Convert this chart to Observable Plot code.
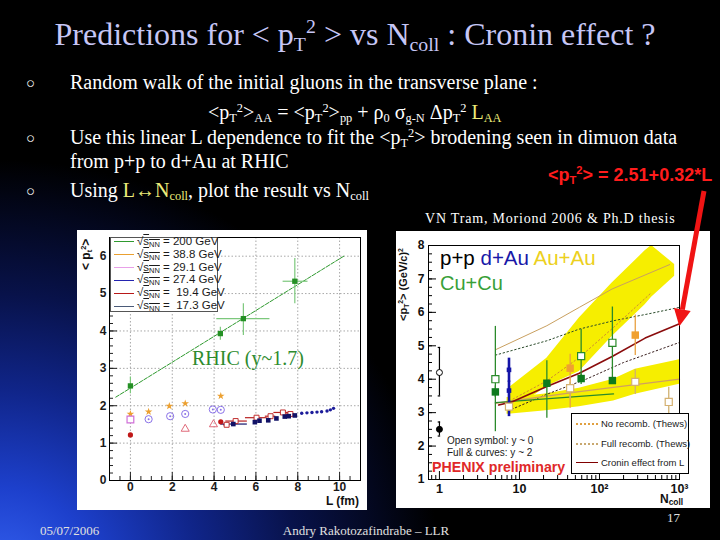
<!DOCTYPE html>
<html>
<head>
<meta charset="utf-8">
<script src="https://cdn.jsdelivr.net/npm/d3@7"></script>
<script src="https://cdn.jsdelivr.net/npm/@observablehq/plot@0.6"></script>
<style>
  html, body { margin:0; padding:0; }
  body { width:720px; height:540px; overflow:hidden; position:relative; background:#000; }
  #bg { position:absolute; left:0; top:0; width:720px; height:540px;
        background: radial-gradient(ellipse 440px 420px at 0px 580px, #3562f2 0%, #1d40cc 22%, #10258a 45%, #08124a 68%, #000 100%); }
  .tx { position:absolute; white-space:nowrap; line-height:1; }
  .tx sub, .tx sup { font-size:0.62em; line-height:0; }
  .tx sub { vertical-align:-0.28em; }
  .tx sup { vertical-align:0.6em; }
  .yel { color:#ecec7a; }
  .plotbox { position:absolute; }
  .plotbox svg { display:block; }
  .legbox { position:absolute; background:#fff; box-sizing:border-box; }
  .legrow { position:absolute; white-space:nowrap; line-height:1; font-family:"Liberation Sans",Arial,sans-serif; color:#1a1a1a; }
  .legline { position:absolute; height:0; }
</style>
</head>
<body>
<div id="bg"></div>
<script>
// ================= LEFT CHART: <pT^2> vs L =================
const L_TICKS = [0, 2, 4, 6, 8, 10];
const LPT2_TICKS = [0, 1, 2, 3, 4, 5, 6];

// sqrt(sNN) = 200 GeV (RHIC)
const s200_L   = [0, 4.3, 5.4, 7.86];
const s200_pt2 = [2.53, 3.93, 4.33, 5.33];
const s200_lo  = [2.32, 3.75, 3.88, 4.73];
const s200_hi  = [2.77, 4.10, 4.73, 5.94];
const s200_Llo = [0, 4.3, 4.13, 7.30];
const s200_Lhi = [0, 4.3, 6.67, 8.49];
const fit_L    = [-0.7, 10.2];
const fit_pt2  = [2.23, 6.0];
// 38.8 GeV
const s388_L   = [0, 0.87, 1.86, 2.62, 4.32];
const s388_pt2 = [1.78, 1.84, 1.99, 2.06, 2.26];
// 29.1 GeV
const s291_L     = [0.87, 1.9, 2.62, 3.94, 4.32];
const s291_pt2   = [1.64, 1.72, 1.78, 1.90, 1.89];
const s291sq_L   = [0];
const s291sq_pt2 = [1.63];
const s291tr_L   = [2.62, 3.97];
const s291tr_pt2 = [1.38, 1.50];
// 19.4 GeV
const s194_L     = [0, 4.32];
const s194_pt2   = [1.22, 1.57];
const s194o_L    = [4.6, 5.03, 6.03, 6.7, 7.29, 7.65];
const s194o_pt2  = [1.49, 1.59, 1.68, 1.72, 1.82, 1.78];
const s194o_Llo  = [4.45, 4.56, 5.5, 6.45, 6.86, 7.45];
const s194o_Lhi  = [4.75, 5.59, 6.54, 6.95, 7.65, 7.85];
// 17.3 GeV
const s173_L     = [4.92, 5.95, 6.17, 6.59, 6.98, 7.38, 7.57, 7.86];
const s173_pt2   = [1.51, 1.56, 1.60, 1.61, 1.66, 1.71, 1.72, 1.74];
const s173_Llo   = [4.32, 5.95, 6.17, 6.59, 6.98, 7.38, 7.57, 7.86];
const s173_Lhi   = [5.59, 5.95, 6.17, 6.59, 6.98, 7.38, 7.57, 7.86];
// 27.4 GeV
const s274_L     = [8.19, 8.44, 8.68, 8.92, 9.14, 9.40, 9.56, 9.71];
const s274_pt2   = [1.80, 1.81, 1.82, 1.83, 1.84, 1.86, 1.89, 1.93];

const LEG1_LABELS = ["200 GeV", "38.8 GeV", "29.1 GeV", "27.4 GeV", "&nbsp;19.4 GeV", "&nbsp;17.3 GeV"];
const LEG1_COLORS = ["#2f9a2f", "#eaa030", "#e8a0e8", "#2424b0", "#b81818", "#4a5a78"];

// ================= RIGHT CHART: <pT^2> vs Ncoll =================
const NCOLL_TICKS = [1, 10, 100, 1000];
const NCOLL_LABELS = ["1", "10", "10²", "10³"];
const RPT2_TICKS = [1, 2, 3, 4, 5, 6, 7, 8];

// p+p
const pp_N = [1, 1];
const pp_pt2 = [2.5, 4.2];
const pp_lo = [2.3, 3.5];
const pp_hi = [2.72, 4.95];
const pp_open = [false, true];
// Cu+Cu open (y~0)
const cuO_N = [5, 59, 145];
const cuO_pt2 = [4.0, 4.69, 5.09];
const cuO_lo = [2.43, 3.84, 3.92];
const cuO_hi = [5.58, 5.49, 6.16];
// Cu+Cu full (y~2)
const cuF_N = [5, 22, 59, 145];
const cuF_pt2 = [3.62, 3.88, 4.02, 3.96];
const cuF_lo = [3.45, 2.83, 3.90, 3.88];
const cuF_hi = [3.80, 4.55, 4.15, 4.05];
// d+Au
const dau_N = [7.4, 7.4];
const dau_pt2 = [4.28, 3.66];
const dau_lo = [3.90, 2.88];
const dau_hi = [4.63, 3.95];
// Au+Au full (y~2)
const auF_N = [43, 280];
const auF_pt2 = [4.33, 5.32];
const auF_lo = [3.13, 4.71];
const auF_hi = [4.75, 5.92];
// Au+Au open (y~0)
const auO_N = [7.4, 43, 280, 734];
const auO_pt2 = [3.18, 3.73, 3.92, 3.32];
const auO_lo = [2.98, 3.40, 3.54, 2.85];
const auO_hi = [3.35, 3.90, 4.29, 3.76];

// yellow bands (model uncertainties)
const band1_N  = [7.5, 22, 56, 144, 372, 448, 870];
const band1_lo = [3.00, 3.78, 4.23, 5.28, 6.23, 6.45, 7.08];
const band1_hi = [3.75, 4.63, 5.83, 6.88, 7.84, 8.00, 7.43];
const band2_N  = [7, 20, 56, 150, 280, 1000];
const band2_lo = [2.95, 3.05, 3.18, 3.35, 3.55, 3.85];
const band2_hi = [3.45, 3.55, 3.73, 4.00, 4.30, 4.58];
// curves
const tanUp_N = [5, 22, 56, 144, 755];
const tanUp_pt2 = [4.88, 5.60, 6.15, 6.70, 7.43];
const dotUp_N = [5, 22, 56, 150, 400, 1000];
const dotUp_pt2 = [4.72, 5.15, 5.50, 5.75, 5.95, 6.15];
const dotLo_N = [8, 22, 68, 200, 1000];
const dotLo_pt2 = [3.10, 3.55, 4.00, 4.50, 5.10];
const dotMid_N = [7.5, 22, 56, 150, 450];
const dotMid_pt2 = [3.35, 3.95, 4.65, 5.55, 6.60];
const cronin_N = [5.5, 8, 22, 56, 144, 372, 1000];
const cronin_pt2 = [3.23, 3.32, 3.78, 4.18, 4.68, 5.23, 5.66];
const tanLo_N = [5, 56, 1000];
const tanLo_pt2 = [3.28, 3.63, 4.00];
const grLo_N = [5, 150];
const grLo_pt2 = [3.30, 3.56];

// helper to zip arrays into rows
function rows(x, cols) { return x.map((v, i) => { const r = {x: v}; for (const k in cols) r[k] = cols[k][i]; return r; }); }

const SANS = '"Liberation Sans", Arial, sans-serif';

// ---------- left plot ----------
{
  const W = 290, H = 280, mt = 7, mr = 7, mb = 30, ml = 32;
  const pw = W - ml - mr, ph = H - mt - mb;
  const xMinor = d3.range(-1, 11.01, 0.5);
  const yMinor = d3.range(0, 6.5, 0.2);
  const g = "#2f9a2f", gl = "#7cc87c";
  const s200 = rows(s200_L, {y: s200_pt2, lo: s200_lo, hi: s200_hi, xlo: s200_Llo, xhi: s200_Lhi});
  const fit = rows(fit_L, {y: fit_pt2});
  const s388 = rows(s388_L, {y: s388_pt2});
  const s291 = rows(s291_L, {y: s291_pt2});
  const s291sq = rows(s291sq_L, {y: s291sq_pt2});
  const s291tr = rows(s291tr_L, {y: s291tr_pt2});
  const s194 = rows(s194_L, {y: s194_pt2});
  const s194o = rows(s194o_L, {y: s194o_pt2, xlo: s194o_Llo, xhi: s194o_Lhi});
  const s173 = rows(s173_L, {y: s173_pt2, xlo: s173_Llo, xhi: s173_Lhi});
  const s274 = rows(s274_L, {y: s274_pt2});
  const chart = Plot.plot({
    width: W, height: H, marginTop: mt, marginRight: mr, marginBottom: mb, marginLeft: ml,
    x: {domain: [-1, 11]},
    y: {domain: [0, 6.5]},
    style: {background: "#fff", fontFamily: SANS},
    marks: [
      Plot.gridX(L_TICKS, {stroke: "#a8a8a8", strokeOpacity: 1, strokeDasharray: "1.5,2"}),
      Plot.gridY(LPT2_TICKS.slice(1), {stroke: "#a8a8a8", strokeOpacity: 1, strokeDasharray: "1.5,2"}),
      Plot.tickX(xMinor, {x: d => d, insetTop: ph - 4, stroke: "#222"}),
      Plot.tickX(L_TICKS, {x: d => d, insetTop: ph - 8, stroke: "#222"}),
      Plot.tickY(yMinor, {y: d => d, insetRight: pw - 4, stroke: "#222"}),
      Plot.tickY(LPT2_TICKS, {y: d => d, insetRight: pw - 8, stroke: "#222"}),
      Plot.axisX(L_TICKS, {tickSize: 0, tickPadding: 2, fontSize: 12, fontWeight: "bold", fill: "#1a1a1a", label: null}),
      Plot.axisY(LPT2_TICKS, {tickSize: 0, tickPadding: 3, fontSize: 12, fontWeight: "bold", fill: "#1a1a1a", label: null}),
      Plot.line(fit, {x: "x", y: "y", stroke: g, strokeWidth: 1, strokeDasharray: "4,1.5"}),
      Plot.ruleX(s200, {x: "x", y1: "lo", y2: "hi", stroke: gl, strokeWidth: 1.2}),
      Plot.ruleY(s200.filter(d => d.xhi > d.xlo), {y: "y", x1: "xlo", x2: "xhi", stroke: gl, strokeWidth: 1.2}),
      Plot.dot(s200, {x: "x", y: "y", symbol: "square", r: 3, fill: "#249024"}),
      Plot.dot(s388, {x: "x", y: "y", symbol: "star", r: 2.4, fill: "#eca030"}),
      Plot.dot(s291, {x: "x", y: "y", r: 3.6, stroke: "#8a72e8", fill: "none", strokeWidth: 1}),
      Plot.dot(s291, {x: "x", y: "y", r: 1, fill: "#8a72e8"}),
      Plot.dot(s291sq, {x: "x", y: "y", symbol: "square", r: 3.8, stroke: "#d070d8", fill: "#fff", strokeWidth: 1.2}),
      Plot.dot(s291tr, {x: "x", y: "y", symbol: "triangle", r: 3, stroke: "#e06a7a", fill: "none", strokeWidth: 1}),
      Plot.ruleY(s194o, {y: "y", x1: "xlo", x2: "xhi", stroke: "#b82020", strokeWidth: 1.2}),
      Plot.ruleY(s173.filter(d => d.xhi > d.xlo), {y: "y", x1: "xlo", x2: "xhi", stroke: "#14146a", strokeWidth: 1.2}),
      Plot.dot(s194, {x: "x", y: "y", r: 2.6, fill: "#c01818"}),
      Plot.dot(s194o, {x: "x", y: "y", symbol: "square", r: 2.8, stroke: "#c03030", fill: "#fff", strokeWidth: 1}),
      Plot.dot(s173, {x: "x", y: "y", symbol: "square", r: 2.6, fill: "#121266"}),
      Plot.dot(s274, {x: "x", y: "y", r: 1.7, fill: "#1c1c9a"}),
      Plot.frame({stroke: "#000"})
    ]
  });
  const box = document.createElement("div");
  box.className = "plotbox"; box.style.left = "77px"; box.style.top = "230px";
  box.appendChild(chart);
  document.body.appendChild(box);
}

// ---------- right plot ----------
{
  const W = 314, H = 277, mt = 14, mr = 31, mb = 29, ml = 32;
  const pw = W - ml - mr, ph = H - mt - mb;
  const xMinor = [0.8, 0.9];
  for (const dec of [1, 10, 100]) for (let k = 2; k <= 9; k++) xMinor.push(k * dec);
  const yMinor = d3.range(1, 8.01, 0.25);
  const band1 = rows(band1_N, {lo: band1_lo, hi: band1_hi});
  const band2 = rows(band2_N, {lo: band2_lo, hi: band2_hi});
  const ln = (n, p) => rows(n, {y: p});
  const pp = rows(pp_N, {y: pp_pt2, lo: pp_lo, hi: pp_hi, open: pp_open});
  const ppCaps = pp.flatMap(d => [{x: d.x, y: d.lo}, {x: d.x, y: d.hi}]);
  const cuO = rows(cuO_N, {y: cuO_pt2, lo: cuO_lo, hi: cuO_hi});
  const cuF = rows(cuF_N, {y: cuF_pt2, lo: cuF_lo, hi: cuF_hi});
  const dau = rows(dau_N, {y: dau_pt2, lo: dau_lo, hi: dau_hi});
  const auF = rows(auF_N, {y: auF_pt2, lo: auF_lo, hi: auF_hi});
  const auO = rows(auO_N, {y: auO_pt2, lo: auO_lo, hi: auO_hi});
  const yel = "#f6ee00";
  const nLabel = d => { const i = NCOLL_TICKS.findIndex(t => Math.abs(t - d) < 1e-6 * t); return i >= 0 ? NCOLL_LABELS[i] : ""; };
  const chart = Plot.plot({
    width: W, height: H, marginTop: mt, marginRight: mr, marginBottom: mb, marginLeft: ml,
    x: {type: "log", domain: [0.73, 1000]},
    y: {domain: [1, 8]},
    style: {background: "#fff", fontFamily: SANS},
    marks: [
      Plot.areaY(band1, {x: "x", y1: "lo", y2: "hi", fill: yel, clip: true}),
      Plot.areaY(band2, {x: "x", y1: "lo", y2: "hi", fill: yel, clip: true}),
      Plot.line(ln(tanUp_N, tanUp_pt2), {x: "x", y: "y", stroke: "#c9a060", strokeWidth: 1}),
      Plot.line(ln(dotUp_N, dotUp_pt2), {x: "x", y: "y", stroke: "#2a4a2a", strokeWidth: 1, strokeDasharray: "1.5,2.5"}),
      Plot.line(ln(dotLo_N, dotLo_pt2), {x: "x", y: "y", stroke: "#3a2020", strokeWidth: 1, strokeDasharray: "1.5,2.5"}),
      Plot.line(ln(dotMid_N, dotMid_pt2), {x: "x", y: "y", stroke: "#d08a30", strokeWidth: 1, strokeDasharray: "1.5,2.5"}),
      Plot.line(ln(tanLo_N, tanLo_pt2), {x: "x", y: "y", stroke: "#d0a060", strokeWidth: 1.3}),
      Plot.line(ln(grLo_N, grLo_pt2), {x: "x", y: "y", stroke: "#2a8a2a", strokeWidth: 1.2}),
      Plot.line(ln(cronin_N, cronin_pt2), {x: "x", y: "y", stroke: "#8a0c0c", strokeWidth: 1.6}),
      Plot.tickX(xMinor, {x: d => d, insetTop: ph - 4, stroke: "#000"}),
      Plot.tickX(NCOLL_TICKS, {x: d => d, insetTop: ph - 8, stroke: "#000"}),
      Plot.tickY(yMinor, {y: d => d, insetRight: pw - 4, stroke: "#000"}),
      Plot.tickY(RPT2_TICKS, {y: d => d, insetRight: pw - 8, stroke: "#000"}),
      Plot.axisX(NCOLL_TICKS, {tickSize: 0, tickPadding: 5, tickFormat: nLabel, fontSize: 12.5, fontWeight: "bold", fill: "#111", label: null}),
      Plot.axisY(RPT2_TICKS, {tickSize: 0, tickPadding: 4, fontSize: 12, fontWeight: "bold", fill: "#111", label: null}),
      // error bars
      Plot.ruleX(pp, {x: "x", y1: "lo", y2: "hi", stroke: "#000", strokeWidth: 1.2}),
      Plot.ruleY(ppCaps, {y: "y", x1: d => d.x * 0.965, x2: d => d.x * 1.036, stroke: "#000", strokeWidth: 1.2}),
      Plot.ruleX(cuO, {x: "x", y1: "lo", y2: "hi", stroke: "#2a8a2a", strokeWidth: 1.3}),
      Plot.ruleX(cuF, {x: "x", y1: "lo", y2: "hi", stroke: "#2a8a2a", strokeWidth: 1.3}),
      Plot.ruleX(auF, {x: "x", y1: "lo", y2: "hi", stroke: "#e8a040", strokeWidth: 1.3}),
      Plot.ruleX(auO, {x: "x", y1: "lo", y2: "hi", stroke: "#d0b070", strokeWidth: 1.3}),
      Plot.ruleX(dau, {x: "x", y1: "lo", y2: "hi", stroke: "#1414a8", strokeWidth: 2.6}),
      // points
      Plot.dot(pp, {x: "x", y: "y", r: 3, stroke: "#000", fill: d => d.open ? "#fff" : "#000", strokeWidth: 1}),
      Plot.dot(cuO, {x: "x", y: "y", symbol: "square", r: 4, stroke: "#2a8a2a", fill: "#fff", strokeWidth: 1.2}),
      Plot.dot(cuF, {x: "x", y: "y", symbol: "square", r: 4.2, fill: "#0e7a1e"}),
      Plot.dot(dau, {x: "x", y: "y", symbol: "square", r: 2.6, fill: "#1414a8"}),
      Plot.dot(auO, {x: "x", y: "y", symbol: "square", r: 4, stroke: "#d4b070", fill: "#fff", strokeWidth: 1.2}),
      Plot.dot(auF, {x: "x", y: "y", symbol: "square", r: 4.2, fill: "#f0a030"}),
      Plot.frame({stroke: "#000"})
    ]
  });
  const box = document.createElement("div");
  box.className = "plotbox"; box.style.left = "396px"; box.style.top = "231px";
  box.appendChild(chart);
  document.body.appendChild(box);
}

// ---------- text helpers ----------
function txt(html, x, base, size, fam, color, opts = {}) {
  const d = document.createElement("div");
  d.className = "tx";
  d.innerHTML = html;
  const serif = fam === "serif";
  const k = serif ? 0.8375 : 0.8465;
  d.style.fontFamily = serif ? '"Liberation Serif","Times New Roman",serif' : SANS;
  d.style.fontSize = size + "px";
  d.style.left = x + "px";
  d.style.top = (base - k * size) + "px";
  d.style.color = color;
  if (opts.weight) d.style.fontWeight = opts.weight;
  if (opts.ls) d.style.letterSpacing = opts.ls + "px";
  if (opts.anchor === "middle") d.style.transform = "translateX(-50%)";
  if (opts.anchor === "end") d.style.transform = "translateX(-100%)";
  document.body.appendChild(d);
  return d;
}
function vtxt(html, xCenter, yTop, size, color) {
  const d = document.createElement("div");
  d.className = "tx";
  d.innerHTML = html;
  d.style.fontFamily = SANS; d.style.fontSize = size + "px"; d.style.fontWeight = "bold"; d.style.color = color;
  document.body.appendChild(d);
  const w = d.offsetWidth, h = d.offsetHeight;
  d.style.transformOrigin = "0 0";
  d.style.transform = "rotate(-90deg)";
  d.style.left = (xCenter - h / 2) + "px";
  d.style.top = (yTop + w) + "px";
}

// ---------- slide text ----------
const W_ = "#ffffff";
txt("Predictions for &lt; p<sub>T</sub><sup>2</sup> &gt; vs N<sub>coll</sub> : Cronin effect ?", 355, 45, 32, "serif", "#c6c6f6", {anchor: "middle"});
for (const b of [89, 144, 197]) txt("○", 26, b - 1, 15, "sans", W_);
txt("Random walk of the initial gluons in the transverse plane :", 70, 89, 20, "serif", W_);
txt("&lt;p<sub>T</sub><sup>2</sup>&gt;<sub>AA</sub> = &lt;p<sub>T</sub><sup>2</sup>&gt;<sub>pp</sub> + ρ<sub>0</sub> σ<sub>g-N</sub> Δp<sub>T</sub><sup>2</sup> <span class='yel'>L<sub>AA</sub></span>", 208, 119, 20, "serif", W_);
txt("Use this linear L dependence to fit the &lt;p<sub>T</sub><sup>2</sup>&gt; brodening seen in dimuon data", 70, 144, 20, "serif", W_);
txt("from p+p to d+Au at RHIC", 70, 168, 20, "serif", W_);
txt("Using <span class='yel'>L↔N<sub>coll</sub></span>, plot the result vs N<sub>coll</sub>", 70, 197, 20, "serif", W_);
txt("&lt;p<sub>T</sub><sup>2</sup>&gt; = 2.51+0.32*L", 548, 181, 18, "sans", "#ff1c1c", {weight: "bold"});
txt("VN Tram, Moriond 2006 &amp; Ph.D thesis", 425, 224, 14, "serif", W_, {ls: 0.8});

// footer
txt("05/07/2006", 40, 535, 13, "serif", "#e0e0e0");
txt("Andry Rakotozafindrabe – LLR", 366, 535, 13, "serif", "#e0e0e0", {anchor: "middle"});
txt("17", 667, 522, 13, "serif", "#e0e0e0");

// ---------- left plot annotations ----------
vtxt("&lt; p<sub>t</sub><sup>2</sup>&gt;", 86, 239, 12, "#111");
txt("L (fm)", 359, 505, 12, "sans", "#111", {weight: "bold", anchor: "end"});
txt("RHIC (y~1.7)", 192, 365, 20, "serif", "#2e8b2e");
{
  const lg = document.createElement("div");
  lg.className = "legbox";
  Object.assign(lg.style, {left: "110px", top: "237px", width: "108px", height: "75px", border: "1px solid #555"});
  LEG1_LABELS.forEach((lab, i) => {
    const cy = 4 + i * 12.9;
    const l = document.createElement("div");
    l.className = "legline";
    Object.assign(l.style, {left: "3px", width: "20px", top: (cy - 0.75) + "px", borderTop: "1.5px solid " + LEG1_COLORS[i]});
    lg.appendChild(l);
    const t = document.createElement("div");
    t.className = "legrow";
    t.style.fontSize = "11.5px";
    t.style.left = "26px";
    t.style.top = (cy - 6.3) + "px";
    t.innerHTML = "√<span style='text-decoration:overline'>s<sub style='font-size:0.65em;vertical-align:-0.25em;line-height:0'>NN</sub></span> = " + lab;
    lg.appendChild(t);
  });
  document.body.appendChild(lg);
}

// ---------- right plot annotations ----------
vtxt("&lt;p<sub>T</sub><sup>2</sup>&gt; (GeV/c)<sup>2</sup>", 403, 248, 11, "#111");
txt("N<sub style='font-size:0.7em'>coll</sub>", 660, 503, 12, "sans", "#111", {weight: "bold"});
txt("p+p <span style='color:#1818a8'>d+Au</span> <span style='color:#ecd020'>Au+Au</span>", 440, 265, 20.5, "sans", "#000");
txt("Cu+Cu", 440, 290, 20, "sans", "#38a038");
txt("Open symbol: y ~ 0", 447, 444, 10, "sans", "#1a1a1a");
txt("Full &amp; curves: y ~ 2", 447, 456, 10, "sans", "#1a1a1a");
txt("PHENIX preliminary", 432, 472, 14.2, "sans", "#e02828", {weight: "bold"});
{
  const LEG2_LABELS = ["No recomb. (Thews)", "Full recomb. (Thews)", "Cronin effect from L"];
  const LEG2_STYLES = ["2px dotted #e0a040", "2px dotted #c8a870", "1.5px solid #800000"];
  const lg = document.createElement("div");
  lg.className = "legbox";
  Object.assign(lg.style, {left: "571px", top: "413px", width: "118px", height: "61px", border: "1px solid #000"});
  LEG2_LABELS.forEach((lab, i) => {
    const cy = 10 + i * 19.7;
    const l = document.createElement("div");
    l.className = "legline";
    Object.assign(l.style, {left: "4px", width: "22px", top: (cy - 1) + "px", borderTop: LEG2_STYLES[i]});
    lg.appendChild(l);
    const t = document.createElement("div");
    t.className = "legrow";
    t.style.fontSize = "9.5px";
    t.style.left = "29px";
    t.style.top = (cy - 5) + "px";
    t.textContent = lab;
    lg.appendChild(t);
  });
  document.body.appendChild(lg);
}

// red arrow pointing at the Cronin curve
{
  const ns = "http://www.w3.org/2000/svg";
  const s = document.createElementNS(ns, "svg");
  s.setAttribute("width", 720); s.setAttribute("height", 540);
  s.style.position = "absolute"; s.style.left = "0"; s.style.top = "0";
  const tip = [679.3, 326.3], start = [704, 191];
  const dx = tip[0] - start[0], dy = tip[1] - start[1], len = Math.hypot(dx, dy);
  const ux = dx / len, uy = dy / len, nx = -uy, ny = ux;
  const hl = 17, hw = 8.5;
  const bx = tip[0] - hl * ux, by = tip[1] - hl * uy;
  const line = document.createElementNS(ns, "line");
  line.setAttribute("x1", start[0]); line.setAttribute("y1", start[1]);
  line.setAttribute("x2", bx); line.setAttribute("y2", by);
  line.setAttribute("stroke", "#f01414"); line.setAttribute("stroke-width", 5);
  s.appendChild(line);
  const poly = document.createElementNS(ns, "polygon");
  poly.setAttribute("points", `${tip[0]},${tip[1]} ${bx + hw * nx},${by + hw * ny} ${bx - hw * nx},${by - hw * ny}`);
  poly.setAttribute("fill", "#f01414");
  s.appendChild(poly);
  document.body.appendChild(s);
}
</script>
</body>
</html>
